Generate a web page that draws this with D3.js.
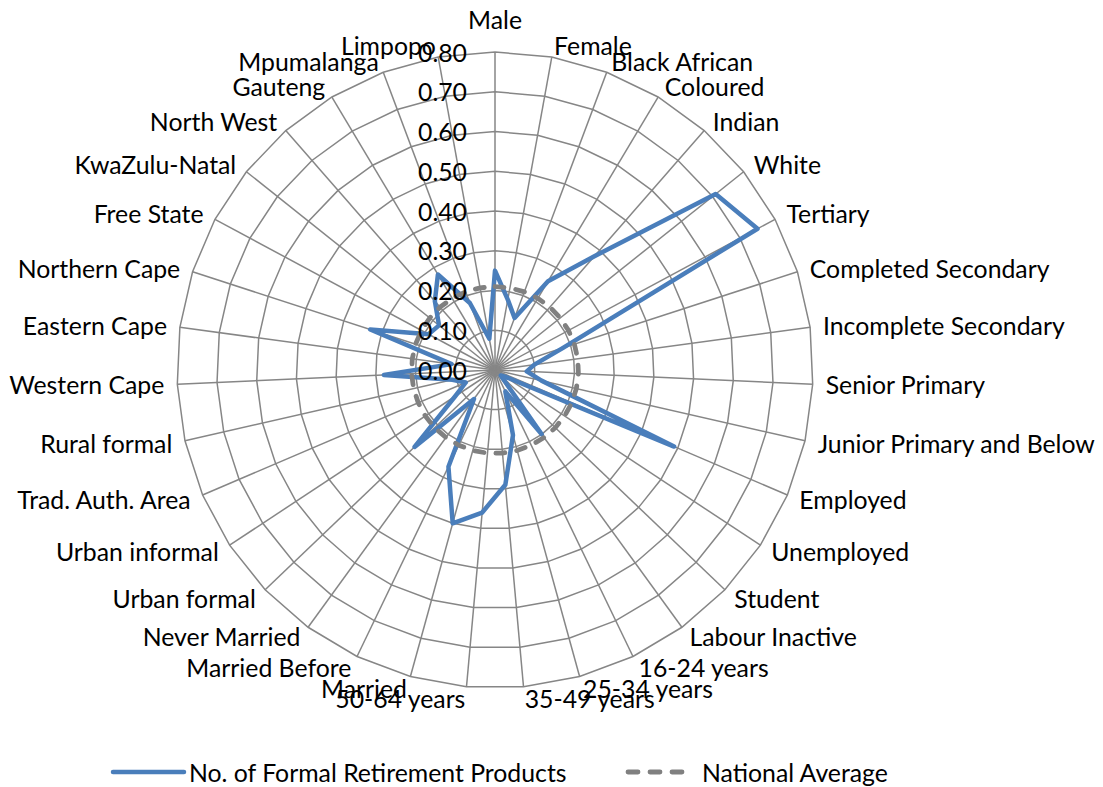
<!DOCTYPE html>
<html><head><meta charset="utf-8">
<script src="https://cdn.jsdelivr.net/npm/d3@7"></script>
<style>
body{margin:0;background:#fff}
svg{display:block}
text{font-family:Lato,"Open Sans",sans-serif;fill:#000}
</style>
</head><body>
<svg id="chart" width="1103" height="787"></svg>
<script>
const categories = ["Male","Female","Black African","Coloured","Indian","White","Tertiary",
  "Completed Secondary","Incomplete Secondary","Senior Primary","Junior Primary and Below",
  "Employed","Unemployed","Student","Labour Inactive","16-24 years","25-34 years","35-49 years",
  "50-64 years","Married","Married Before","Never Married","Urban formal","Urban informal",
  "Trad. Auth. Area","Rural formal","Western Cape","Eastern Cape","Northern Cape","Free State",
  "KwaZulu-Natal","North West","Gauteng","Mpumalanga","Limpopo"];
const retirementProducts = [0.25,0.18,0.14,0.26,0.38,0.71,0.75,
  0.18,0.10,0.08,0.12,
  0.49,0.03,0.02,0.20,0.06,0.17,0.29,
  0.36,0.40,0.27,0.09,0.28,0.12,
  0.08,0.11,0.28,0.11,0.33,0.19,
  0.18,0.23,0.28,0.18,0.08];
const nationalAverage = [0.21,0.21,0.21,0.21,0.21,0.21,0.21,0.21,0.21,0.21,0.21,0.21,0.21,0.21,0.21,0.21,0.21,0.21,
  0.21,0.21,0.21,0.21,0.21,0.21,0.21,0.21,0.21,0.21,0.21,0.21,0.21,0.21,0.21,0.21,0.21];
const tickValues = [0,0.1,0.2,0.3,0.4,0.5,0.6,0.7,0.8];
const tickLabels = ["0.00","0.10","0.20","0.30","0.40","0.50","0.60","0.70","0.80"];
const seriesNames = ["No. of Formal Retirement Products","National Average"];

const cx = 495, cy = 370, R = 318, FS = 24.8;
const svg = d3.select("#chart");
const n = categories.length;
const rScale = d3.scaleLinear().domain([0, 0.8]).range([0, R]);
const aScale = d3.scaleLinear().domain([0, n]).range([0, 2 * Math.PI]);
const gridColor = "#868686";

const g = svg.append("g").attr("transform", `translate(${cx},${cy})`);
const idx = d3.range(n);

// rings
const ringLine = v => d3.lineRadial().angle(i => aScale(i)).radius(() => rScale(v)).curve(d3.curveLinearClosed)(idx);
g.selectAll("path.ring").data(tickValues.filter(v => v > 0)).join("path")
  .attr("class","ring").attr("d", ringLine)
  .attr("fill","none").attr("stroke",gridColor).attr("stroke-width",1.5);

// spokes
g.selectAll("line.spoke").data(idx).join("line")
  .attr("x1",0).attr("y1",0)
  .attr("x2", i => rScale(0.8) * Math.sin(aScale(i)))
  .attr("y2", i => -rScale(0.8) * Math.cos(aScale(i)))
  .attr("stroke",gridColor).attr("stroke-width",1.5);

// series
const seriesLine = d3.lineRadial().angle((d,i) => aScale(i)).radius(d => rScale(d)).curve(d3.curveLinearClosed);
g.append("path").attr("d", seriesLine(retirementProducts))
  .attr("fill","none").attr("stroke","#4a7ebb").attr("stroke-width",4.5).attr("stroke-linejoin","round");
g.append("path").attr("d", seriesLine(nationalAverage))
  .attr("fill","none").attr("stroke","#808080").attr("stroke-width",4.8)
  .attr("stroke-dasharray","9,12").attr("stroke-linecap","round");

// category labels
g.selectAll("text.cat").data(categories).join("text")
  .attr("class","cat")
  .attr("font-size", FS)
  .attr("dominant-baseline","central")
  .each(function(d, i) {
    const a = aScale(i), s = Math.sin(a), c = Math.cos(a);
    const ex = R * s, ey = -R * c;
    const t = d3.select(this).text(d);
    if (Math.abs(s) < 0.01) {
      t.attr("text-anchor","middle").attr("x", ex).attr("y", ey - 33);
    } else {
      t.attr("text-anchor", s > 0 ? "start" : "end")
       .attr("x", ex + 13 * s)
       .attr("y", ey - 12 * c);
    }
  });

// tick labels
g.selectAll("text.tick").data(tickValues).join("text")
  .attr("class","tick").attr("font-size", FS)
  .attr("text-anchor","end").attr("dominant-baseline","central")
  .attr("x", -28).attr("y", v => -rScale(v))
  .text((v,i) => tickLabels[i]);

// legend
const lg = svg.append("g").attr("transform","translate(0,772)");
lg.append("line").attr("x1",113).attr("x2",184).attr("y1",0).attr("y2",0)
  .attr("stroke","#4a7ebb").attr("stroke-width",4.5).attr("stroke-linecap","round");
lg.append("text").attr("x",189).attr("y",0).attr("dominant-baseline","central")
  .attr("font-size",FS).text(seriesNames[0]);
lg.append("line").attr("x1",628).attr("x2",684).attr("y1",0).attr("y2",0)
  .attr("stroke","#808080").attr("stroke-width",4.8)
  .attr("stroke-dasharray","10,12").attr("stroke-linecap","round");
lg.append("text").attr("x",702).attr("y",0).attr("dominant-baseline","central")
  .attr("font-size",FS).text(seriesNames[1]);
</script>
</body></html>
